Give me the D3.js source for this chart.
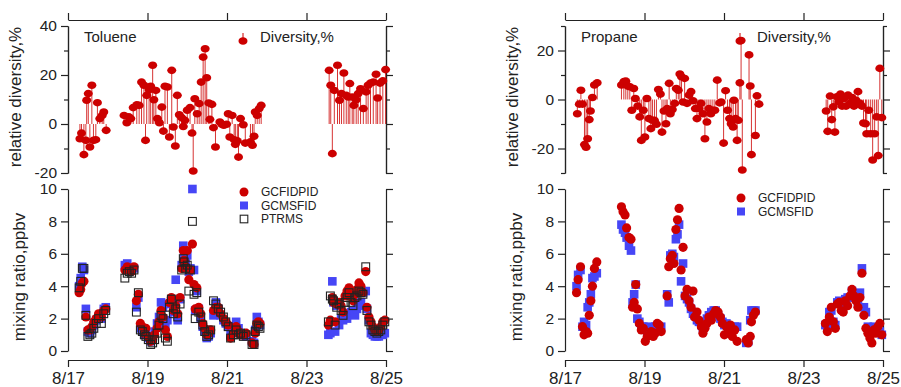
<!DOCTYPE html>
<html>
<head>
<meta charset="utf-8">
<script src="https://cdn.jsdelivr.net/npm/d3@7"></script>
<style>
  body { margin: 0; background: #fff; }
  text { font-family: "Liberation Sans", Arial, sans-serif; fill: #222; }
</style>
</head>
<body>
<svg id="chart" width="901" height="387"></svg>
<script>
// days are counted from 8/17 00:00
const base = new Date(2012, 7, 17);
const toDate = d => new Date(base.getTime() + d * 864e5);

const xTickDays = [0, 2, 4, 6, 8];   // 8/17 .. 8/25

// ---- Toluene: relative diversity (%)
const tolDivDay = [0.30,0.34,0.40,0.45,0.47,0.51,0.55,0.60,0.64,0.70,0.74,0.80,0.86,0.90,0.96,
  1.41,1.48,1.53,1.58,1.64,1.73,1.79,1.85,1.91,1.95,1.98,2.04,2.08,2.13,2.16,2.21,2.25,2.30,2.36,2.40,
  2.44,2.50,2.55,2.61,2.65,2.70,2.75,2.80,2.86,2.90,2.94,3.00,3.07,3.12,3.15,3.19,3.25,3.30,3.35,3.40,
  3.45,3.49,3.54,3.57,3.62,3.66,3.71,3.82,3.87,3.92,3.99,4.03,4.07,4.13,4.18,4.21,4.26,4.29,4.34,4.41,
  4.46,4.59,4.64,4.68,4.71,4.76,4.81,4.86,
  6.57,6.61,6.65,6.70,6.78,6.83,6.88,6.94,7.00,7.05,7.09,7.15,7.19,7.25,7.30,7.36,7.43,7.50,7.55,7.61,
  7.68,7.75,7.79,7.85,7.92,7.99];
const tolDiv = [-6,-3.7,-12.5,-6.7,9.7,12.4,-9.4,15.8,-6.7,-6.4,8.7,2.2,3.5,4.9,-2.6,
  3.5,0.5,2.9,2.2,6.7,7.8,7.6,17.1,15.8,-6.7,11.7,14,15.4,24,9.9,13.7,2.2,0.5,6.9,-2.9,
  15.4,15.1,-5.3,21.9,-1.2,-9,11.7,3.8,2.6,-1,1.5,5.6,6.7,-3.7,-19.2,10.3,4.2,8.3,17.1,27.3,
  30.7,18.9,8.6,1.9,8,-1.5,-9.4,0.8,-0.1,-0.5,-0.1,4.2,-5.3,3.5,-6.4,-8.3,-6.9,-13.5,2.2,-0.3,
  -7.8,-7.3,-8.7,-5,4.9,3.5,6.3,7.6,
  21.9,15.8,-12.1,13.7,24,9.7,12.4,20.8,11.7,11,16.5,11,7.6,9.9,12.4,14.4,6.3,13.1,15.8,16.7,
  17.1,20.3,10.6,16.7,17.6,22.2];

// ---- Toluene: mixing ratio (ppbv)
const tolDay = [0.28,0.32,0.36,0.40,0.45,0.50,0.55,0.60,0.65,0.71,0.77,0.84,0.90,0.95,
  1.43,1.49,1.54,1.60,1.66,1.72,1.77,1.82,1.87,1.92,1.96,2.02,2.08,2.13,2.18,2.24,2.29,2.34,2.39,2.45,
  2.50,2.55,2.60,2.65,2.71,2.76,2.82,2.86,2.90,2.92,2.96,3.00,3.04,3.08,3.13,3.17,3.20,3.24,3.29,3.34,
  3.39,3.44,3.49,3.54,3.59,3.66,3.72,3.78,3.84,3.91,3.97,4.03,4.09,4.16,4.23,4.29,4.34,4.41,4.48,4.63,
  4.68,4.71,4.75,4.79,4.83,
  6.55,6.60,6.65,6.68,6.72,6.76,6.82,6.87,6.92,6.97,7.02,7.07,7.12,7.17,7.22,7.27,7.32,7.37,7.42,7.49,
  7.52,7.57,7.62,7.67,7.72,7.77,7.82,7.87,7.92,7.97];
const tolGCFIDPID = [3.6,3.8,4.2,4.3,2.1,1.3,1.3,1.5,1.8,2.0,2.3,2.1,2.5,2.6,
  5.0,5.2,5.0,4.9,5.2,3.1,3.5,1.7,1.5,1.1,1.4,0.9,0.6,0.7,1.0,1.4,1.8,2.5,2.1,1.3,
  0.9,3.0,3.3,2.5,2.8,2.3,3.3,5.1,6.2,5.6,5.2,6.2,4.4,5.0,6.6,4.1,2.6,3.9,2.7,2.3,
  1.7,1.4,1.0,1.1,1.3,2.5,2.7,2.7,2.3,2.0,1.8,1.6,0.8,1.1,1.5,1.2,1.0,1.0,1.1,0.5,
  0.4,1.1,1.7,1.8,1.7,
  1.6,1.9,3.3,3.0,1.8,2.9,3.0,2.8,2.4,3.4,3.7,3.9,3.4,3.1,3.5,3.8,4.2,4.0,3.6,4.9,
  2.7,2.1,1.8,1.5,1.3,1.2,1.3,1.5,1.8,1.9];
const tolGCMSFID = [4.0,4.5,5.2,5.0,2.6,1.2,1.1,1.3,1.6,1.9,2.1,2.0,2.6,2.7,
  5.3,5.4,5.1,5.0,5.1,2.7,3.3,1.4,1.2,1.0,1.1,0.8,0.6,0.8,1.2,1.7,2.1,3.0,2.7,1.5,
  1.9,2.9,3.1,2.4,4.4,1.9,3.2,5.3,6.5,6.0,5.4,5.9,4.9,5.1,10.0,5.0,2.5,3.7,2.6,2.0,
  1.5,1.2,0.8,0.9,1.1,2.2,3.0,2.6,2.2,1.9,1.7,1.5,1.0,1.2,1.8,1.4,1.1,1.1,0.9,0.6,
  0.5,1.3,2.1,1.8,1.6,
  1.0,1.1,4.3,3.0,1.2,2.8,1.6,2.0,1.9,2.2,2.0,2.3,2.4,2.5,2.2,2.6,2.8,3.0,3.6,3.7,
  2.6,1.9,1.1,1.0,0.9,0.9,0.9,1.0,1.0,1.1];
const tolPTRMS = [3.9,4.3,5.1,5.1,2.2,0.9,1.0,1.1,1.4,1.7,2.0,1.7,2.3,2.5,
  4.5,4.8,4.9,4.8,5.0,2.4,3.6,1.3,1.2,1.0,0.9,0.7,0.4,0.5,0.7,1.1,1.6,2.2,2.0,0.8,
  0.6,2.7,3.2,2.3,2.6,2.1,2.9,5.0,5.7,5.5,5.1,5.3,3.7,5.0,8.0,3.5,2.0,3.6,2.4,2.1,
  1.6,1.2,0.9,1.0,1.3,3.1,2.9,2.6,2.4,2.1,1.8,1.5,0.8,1.0,1.3,1.0,1.1,0.9,1.0,0.4,
  0.4,1.2,1.6,1.5,1.4,
  1.8,3.4,3.2,3.1,1.6,2.7,2.9,2.5,2.2,3.0,3.3,3.6,3.0,2.8,3.3,3.4,3.7,3.6,3.5,5.2,
  2.5,1.8,1.6,1.3,1.2,1.1,1.2,1.3,1.6,1.8];

// ---- Propane: relative diversity (%)
const proDivDay = [0.31,0.36,0.40,0.44,0.49,0.53,0.57,0.61,0.64,0.69,0.74,0.81,
  1.42,1.48,1.53,1.58,1.63,1.68,1.73,1.77,1.83,1.88,1.92,1.97,2.01,2.06,2.11,2.16,2.20,2.25,2.30,2.35,
  2.40,2.44,2.49,2.54,2.57,2.62,2.65,2.70,2.76,2.80,2.85,2.89,2.93,2.97,3.01,3.07,3.12,3.17,3.22,3.28,
  3.32,3.37,3.42,3.47,3.52,3.57,3.62,3.67,3.72,3.77,3.83,3.89,3.93,3.99,4.04,4.09,4.14,4.18,4.23,4.25,
  4.29,4.33,4.36,4.40,4.43,4.46,4.63,4.66,4.69,4.79,4.83,4.88,
  6.57,6.61,6.67,6.71,6.75,6.79,6.84,6.89,6.93,6.97,7.02,7.07,7.12,7.17,7.22,7.27,7.32,7.37,7.42,7.47,
  7.51,7.56,7.59,7.64,7.69,7.74,7.79,7.84,7.88,7.92,7.97];
const proDiv = [-5.8,-1.9,3.8,-1.9,-18.4,-19.5,-16,-8.2,-4.7,0.8,5.9,6.8,
  5.9,7.3,7.5,5.5,5.2,-4.4,4.5,0.4,-2.7,-7.1,-16.7,-4.4,-15.3,0.4,-7.8,-11.9,-8.5,-8.5,-10.1,4.1,
  2.2,-13.3,-4.7,-9.9,-3.7,6.6,-5.8,-4.1,-1.6,4.5,3.8,10.4,9.3,-1,8.6,-1.6,1.8,3.2,-0.5,-3.7,
  -7.8,-3.7,-1.6,-5.8,-16,-9.2,-3.7,-5.8,-4.4,-4.4,7.9,-1.4,-1,-17.8,3.6,-4.4,-7.8,-9.9,-11.2,-0.3,
  -7.8,-16.7,-8.5,6.8,24.1,-28.8,18.2,5.5,-22.5,-14.7,1.5,-1.9,
  -4.7,-13,1.4,-8.2,-3,-13.3,1.1,-1,2.2,-2.7,0.4,-2.7,1.8,-1.6,0.8,-2.7,-0.3,3.2,-1.6,-2.7,
  -9.6,-9.9,-14,-4.4,-14,-24.7,-14,-7.1,-22.9,12.7,-7.4];

// ---- Propane: mixing ratio (ppbv)
const proDay = [0.29,0.33,0.39,0.44,0.48,0.53,0.57,0.61,0.65,0.69,0.74,0.80,
  1.42,1.46,1.51,1.55,1.61,1.66,1.70,1.74,1.78,1.82,1.87,1.92,1.97,2.02,2.07,2.12,2.17,2.22,2.27,2.32,
  2.37,2.42,2.57,2.61,2.65,2.70,2.74,2.79,2.83,2.87,2.92,2.97,3.02,3.07,3.12,3.17,3.22,3.26,3.32,3.37,
  3.43,3.47,3.52,3.57,3.62,3.68,3.74,3.79,3.85,3.91,3.96,4.01,4.06,4.11,4.16,4.21,4.27,4.33,4.56,4.61,
  4.66,4.69,4.74,4.79,
  6.55,6.60,6.65,6.70,6.75,6.80,6.85,6.90,6.95,7.00,7.05,7.11,7.17,7.22,7.27,7.32,7.37,7.42,7.47,7.52,
  7.57,7.62,7.67,7.72,7.77,7.82,7.87,7.92,7.97];
const proGCFIDPID = [3.6,4.4,5.2,1.5,1.0,1.2,1.1,2.2,3.1,4.0,5.1,5.5,
  8.9,8.6,8.4,7.6,7.0,6.9,2.7,3.0,4.1,2.6,1.7,1.3,1.4,0.6,0.9,1.0,1.2,0.9,1.1,1.7,
  1.6,1.2,3.4,5.2,5.7,5.9,5.4,7.5,8.1,8.8,5.0,6.4,3.4,3.8,3.1,2.7,3.7,2.1,2.4,1.9,
  1.5,1.1,1.4,1.7,2.1,1.9,2.3,2.5,2.4,2.1,1.7,1.0,1.5,1.1,1.6,0.9,1.3,0.6,0.7,0.5,
  0.9,1.8,2.2,2.4,
  1.7,1.2,2.1,2.7,1.8,1.4,2.9,3.0,2.5,2.4,3.1,2.8,3.4,3.8,3.4,3.1,2.7,3.3,4.8,2.2,
  1.4,1.1,0.8,0.5,1.3,1.1,1.5,1.7,1.0];
const proGCMSFID = [4.0,4.7,5.0,1.5,1.8,1.6,2.7,3.0,3.5,4.5,4.6,4.8,
  7.8,7.5,7.3,7.0,6.5,6.2,3.0,3.5,4.1,2.0,1.8,1.5,1.5,1.4,1.2,1.5,1.3,1.4,1.5,1.5,
  1.4,1.5,3.5,3.0,5.9,6.0,5.8,6.9,7.2,7.8,4.3,5.4,3.4,3.2,3.0,2.6,2.3,2.2,1.9,1.8,
  1.6,1.4,1.6,2.0,2.2,2.4,2.5,2.5,2.2,2.0,1.8,1.6,1.7,1.5,1.5,1.4,1.5,1.5,0.5,0.6,
  1.9,2.5,2.5,2.5,
  1.6,1.5,2.4,2.5,1.8,1.6,3.0,3.1,3.0,2.8,3.2,3.3,3.3,3.7,3.4,3.5,3.0,3.6,5.1,2.7,
  2.4,1.5,1.4,1.2,1.5,1.4,1.3,1.2,1.0];

const red = "#cc0000";
const blue = "#4646f6";

const svg = d3.select("#chart");

function drawPanel(p) {
  const g = svg.append("g").attr("transform", `translate(${p.left},0)`);
  const x = d3.scaleTime().domain([base, toDate(8)]).range([0, 318]);
  const yDiv = d3.scaleLinear().domain(p.divDomain).range([173, 26]);
  const yMix = d3.scaleLinear().domain([0, 10]).range([351, 189]);
  const xTicks = xTickDays.map(toDate);
  const num = d => String(d);

  // axes, upper panel
  g.append("g").attr("class", "ax").attr("transform", "translate(0,20)")
    .call(d3.axisTop(x).tickValues(xTicks).tickSize(7).tickSizeOuter(0).tickFormat(""));
  g.append("g").attr("class", "ax")
    .call(d3.axisLeft(yDiv).tickValues(p.divMinor).tickSize(4).tickSizeOuter(0).tickFormat(""));
  g.append("g").attr("class", "ax ylab")
    .call(d3.axisLeft(yDiv).tickValues(p.divMajor).tickSize(7).tickSizeOuter(0).tickPadding(4).tickFormat(num));
  g.append("g").attr("class", "ax").attr("transform", "translate(318,0)")
    .call(d3.axisRight(yDiv).tickValues(p.divMinor).tickSize(4).tickSizeOuter(0).tickFormat(""));
  g.append("g").attr("class", "ax").attr("transform", "translate(318,0)")
    .call(d3.axisRight(yDiv).tickValues(p.divMajor).tickSize(7).tickSizeOuter(0).tickFormat(""));

  // axes, lower panel
  g.append("g").attr("class", "ax ylab")
    .call(d3.axisLeft(yMix).tickValues([0, 2, 4, 6, 8, 10]).tickSize(7).tickSizeOuter(0).tickPadding(4).tickFormat(num));
  g.append("g").attr("class", "ax").attr("transform", "translate(318,0)")
    .call(d3.axisRight(yMix).tickValues([0, 2, 4, 6, 8, 10]).tickSize(7).tickSizeOuter(0).tickFormat(""));
  g.append("g").attr("class", "ax xlab").attr("transform", "translate(0,360)")
    .call(d3.axisBottom(x).tickValues(xTicks).tickSize(7).tickSizeOuter(0).tickPadding(5)
      .tickFormat(d3.timeFormat("%-m/%-d")));

  g.selectAll(".ax path, .ax line").attr("stroke", "#222").attr("stroke-width", 1.2);
  g.selectAll(".ylab text").style("font-size", "15.5px").attr("fill", "#222");
  g.selectAll(".xlab text").style("font-size", "17px").attr("fill", "#222");

  // y titles
  g.append("text").attr("transform", "translate(-47,97) rotate(-90)")
    .attr("text-anchor", "middle").style("font-size", "17px").text("relative diversity,%");
  g.append("text").attr("transform", "translate(-43,277) rotate(-90)")
    .attr("text-anchor", "middle").style("font-size", "17px").text("mixing ratio,ppbv");

  // diversity sticks
  const div = p.divDay.map((d, i) => ({ t: toDate(d), v: p.div[i] }));
  g.append("g").selectAll("line").data(div).join("line")
    .attr("x1", d => x(d.t)).attr("x2", d => x(d.t))
    .attr("y1", yDiv(0)).attr("y2", d => yDiv(d.v))
    .attr("stroke", red).attr("stroke-opacity", 0.8).attr("stroke-width", 1);
  g.append("g").selectAll("ellipse").data(div).join("ellipse")
    .attr("cx", d => x(d.t)).attr("cy", d => yDiv(d.v))
    .attr("rx", 4.5).attr("ry", 3.8).attr("fill", red);

  // mixing ratio markers
  const mix = p.mixDay.map((d, i) => ({ t: toDate(d), a: p.gcfid[i], b: p.gcms[i], c: p.ptr ? p.ptr[i] : null }));
  g.append("g").selectAll("rect").data(mix).join("rect")
    .attr("x", d => x(d.t) - 4.3).attr("y", d => yMix(d.b) - 4.3)
    .attr("width", 8.6).attr("height", 8.6).attr("fill", blue);
  g.append("g").selectAll("circle").data(mix).join("circle")
    .attr("cx", d => x(d.t)).attr("cy", d => yMix(d.a)).attr("r", 4.6).attr("fill", red);
  if (p.ptr) {
    g.append("g").selectAll("rect").data(mix).join("rect")
      .attr("x", d => x(d.t) - 3.9).attr("y", d => yMix(d.c) - 3.9)
      .attr("width", 7.8).attr("height", 7.8)
      .attr("fill", "none").attr("stroke", "#222").attr("stroke-width", 1.1);
  }

  // labels and legends
  g.append("text").attr("x", 16).attr("y", 42).style("font-size", "15px").text(p.name);
  g.append("line").attr("x1", 175).attr("x2", 175).attr("y1", 33).attr("y2", 41)
    .attr("stroke", red).attr("stroke-width", 1);
  g.append("ellipse").attr("cx", 175).attr("cy", 41).attr("rx", 4.5).attr("ry", 3.8).attr("fill", red);
  g.append("text").attr("x", 192).attr("y", 42).style("font-size", "15px").text("Diversity,%");

  const leg = g.append("g").style("font-size", "12px");
  p.legendRows.forEach((row, i) => {
    const y = p.legendY + i * 13.5;
    if (row === "GCFIDPID") leg.append("circle").attr("cx", 176).attr("cy", y).attr("r", 4.5).attr("fill", red);
    if (row === "GCMSFID") leg.append("rect").attr("x", 172).attr("y", y - 4).attr("width", 8).attr("height", 8).attr("fill", blue);
    if (row === "PTRMS") leg.append("rect").attr("x", 172.2).attr("y", y - 3.8).attr("width", 7.6).attr("height", 7.6)
      .attr("fill", "none").attr("stroke", "#222").attr("stroke-width", 1.1);
    leg.append("text").attr("x", 193).attr("y", y).attr("dy", "0.36em").text(row);
  });
}

drawPanel({
  left: 68, name: "Toluene",
  divDomain: [-20, 40], divMajor: [-20, 0, 20, 40], divMinor: [-10, 10, 30],
  divDay: tolDivDay, div: tolDiv,
  mixDay: tolDay, gcfid: tolGCFIDPID, gcms: tolGCMSFID, ptr: tolPTRMS,
  legendRows: ["GCFIDPID", "GCMSFID", "PTRMS"], legendY: 192
});

drawPanel({
  left: 565, name: "Propane",
  divDomain: [-30, 30], divMajor: [-20, 0, 20], divMinor: [-30, -10, 10, 30],
  divDay: proDivDay, div: proDiv,
  mixDay: proDay, gcfid: proGCFIDPID, gcms: proGCMSFID, ptr: null,
  legendRows: ["GCFIDPID", "GCMSFID"], legendY: 198
});
</script>
</body>
</html>
